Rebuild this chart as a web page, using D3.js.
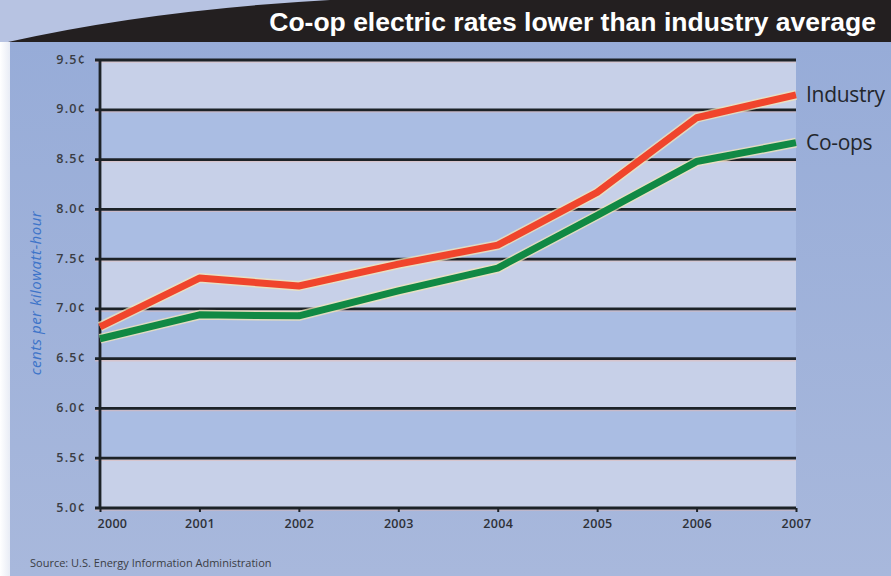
<!DOCTYPE html>
<html>
<head>
<meta charset="utf-8">
<script src="https://cdn.jsdelivr.net/npm/d3@7"></script>
<style>
  body { margin: 0; background: #ffffff; }
  svg { display: block; }
</style>
</head>
<body>
<svg></svg>
<script>
// DATA
var years = [2000, 2001, 2002, 2003, 2004, 2005, 2006, 2007];
var industry = [6.82, 7.31, 7.23, 7.45, 7.64, 8.17, 8.92, 9.15];
var coops = [6.70, 6.94, 6.93, 7.18, 7.41, 7.94, 8.48, 8.67];
var yTicks = [5.0, 5.5, 6.0, 6.5, 7.0, 7.5, 8.0, 8.5, 9.0, 9.5];
var seriesNames = ['Industry', 'Co-ops'];

// SVG SETUP
var W = 891, H = 576;
var svg = d3.select('svg')
    .attr('width', W)
    .attr('height', H);

var defs = svg.append('defs');
var bg = defs.append('linearGradient')
    .attr('id', 'bgGrad')
    .attr('x1', 0).attr('y1', 0).attr('x2', 0).attr('y2', 1);
bg.append('stop').attr('offset', '0%').attr('stop-color', '#97acd8');
bg.append('stop').attr('offset', '100%').attr('stop-color', '#a8b8dc');

var leftStrip = defs.append('linearGradient')
    .attr('id', 'stripGrad')
    .attr('x1', 0).attr('y1', 0).attr('x2', 1).attr('y2', 0);
leftStrip.append('stop').attr('offset', '0%').attr('stop-color', '#ffffff');
leftStrip.append('stop').attr('offset', '100%').attr('stop-color', '#e8ecf5');

// BACKGROUND
svg.append('rect')
    .attr('width', W).attr('height', H)
    .attr('fill', '#b7c3e2');

svg.append('rect')
    .attr('x', 0).attr('y', 42)
    .attr('width', W).attr('height', H - 42)
    .attr('fill', 'url(#bgGrad)');

svg.append('rect')
    .attr('x', 0).attr('y', 42)
    .attr('width', 10).attr('height', H - 42)
    .attr('fill', 'url(#stripGrad)');

// BANNER
svg.append('path')
    .attr('d', 'M8,42 Q150,10 330,0 L891,0 L891,42 Z')
    .attr('fill', '#231f20');

svg.append('text')
    .attr('x', 876)
    .attr('y', 31)
    .attr('text-anchor', 'end')
    .attr('fill', '#ffffff')
    .style('font-family', '"Liberation Sans Narrow", "Arial Narrow", "Liberation Sans", sans-serif')
    .style('font-weight', 'bold')
    .style('font-size', '26.5px')
    .text('Co-op electric rates lower than industry average');

// SCALES
var x = d3.scalePoint()
    .domain(years)
    .range([100, 796]);

var y = d3.scaleLinear()
    .domain([5.0, 9.5])
    .range([508, 60]);

var chartG = svg.append('g');

// BANDS
var bands = d3.pairs(yTicks);
chartG.selectAll('.band')
    .data(bands)
    .enter()
    .append('rect')
    .attr('class', 'band')
    .attr('x', x(years[0]))
    .attr('width', x(years[years.length - 1]) - x(years[0]))
    .attr('y', function(d) { return y(d[1]); })
    .attr('height', function(d) { return y(d[0]) - y(d[1]); })
    .attr('fill', function(d, i) {
        return i % 2 === 0 ? '#c7d0e8' : '#aabde3';
    });

// GRIDLINES
chartG.selectAll('.gridShadow')
    .data(yTicks)
    .enter()
    .append('line')
    .attr('x1', 95)
    .attr('x2', x(years[years.length - 1]))
    .attr('y1', function(d) { return y(d) + 2; })
    .attr('y2', function(d) { return y(d) + 2; })
    .attr('stroke', '#e8b8b0')
    .attr('stroke-opacity', 0.5)
    .attr('stroke-width', 1.5);

chartG.selectAll('.grid')
    .data(yTicks)
    .enter()
    .append('line')
    .attr('x1', 95)
    .attr('x2', x(years[years.length - 1]))
    .attr('y1', function(d) { return y(d); })
    .attr('y2', function(d) { return y(d); })
    .attr('stroke', '#1c2227')
    .attr('stroke-width', 2.8);

// Y AXIS LINE
chartG.append('line')
    .attr('x1', 100).attr('x2', 100)
    .attr('y1', y(9.5)).attr('y2', y(5.0) + 1)
    .attr('stroke', '#1c2227')
    .attr('stroke-width', 2.8);

// X AXIS
var xAxis = d3.axisBottom(x)
    .tickSize(4)
    .tickPadding(7)
    .tickFormat(d3.format('d'));

var xAxisG = chartG.append('g')
    .attr('transform', 'translate(0,' + y(5.0) + ')')
    .call(xAxis);
xAxisG.select('.domain').remove();
xAxisG.selectAll('.tick line')
    .attr('stroke', '#1c2227')
    .attr('stroke-width', 2);
xAxisG.selectAll('.tick text')
    .attr('fill', '#2e3138')
    .style('font-family', '"Open Sans", "DejaVu Sans", sans-serif')
    .style('font-weight', '600')
    .style('font-size', '12.5px')
    .style('letter-spacing', '0.3px');
// first year label sits right of the axis corner
xAxisG.selectAll('.tick text')
    .filter(function(d) { return d === years[0]; })
    .attr('text-anchor', 'start')
    .attr('x', -3);

// Y AXIS LABELS
chartG.selectAll('.ylabel')
    .data(yTicks)
    .enter()
    .append('text')
    .attr('x', 86)
    .attr('y', function(d) { return y(d) + 3.5; })
    .attr('text-anchor', 'end')
    .attr('fill', '#3a3d44')
    .style('font-family', '"Open Sans", "DejaVu Sans", sans-serif')
    .style('font-weight', '600')
    .style('font-size', '12.5px')
    .style('letter-spacing', '1.2px')
    .text(function(d) { return d3.format('.1f')(d) + '\u00a2'; });

// Y AXIS TITLE
svg.append('text')
    .attr('transform', 'translate(41, 293) rotate(-90)')
    .attr('text-anchor', 'middle')
    .attr('fill', '#3d74c9')
    .style('font-family', '"Open Sans", "DejaVu Sans", sans-serif')
    .style('font-style', 'italic')
    .style('font-size', '15px')
    .style('letter-spacing', '0.5px')
    .text('cents per kilowatt-hour');

// LINES
var line = d3.line()
    .x(function(d, i) { return x(years[i]); })
    .y(function(d) { return y(d); });

var series = [
    { name: seriesNames[0], values: industry, color: '#f0452c' },
    { name: seriesNames[1], values: coops, color: '#118944' }
];

series.forEach(function(s) {
    chartG.append('path')
        .datum(s.values)
        .attr('d', line)
        .attr('fill', 'none')
        .attr('stroke', '#f1e6b8')
        .attr('stroke-opacity', 0.75)
        .attr('stroke-width', 10)
        .attr('stroke-linejoin', 'round');
});

series.forEach(function(s) {
    chartG.append('path')
        .datum(s.values)
        .attr('d', line)
        .attr('fill', 'none')
        .attr('stroke', s.color)
        .attr('stroke-width', 7)
        .attr('stroke-linejoin', 'round');
});

// LEGEND LABELS
chartG.selectAll('.seriesLabel')
    .data(series)
    .enter()
    .append('text')
    .attr('x', 806)
    .attr('y', function(d) { return y(d.values[d.values.length - 1]) + 7; })
    .attr('fill', '#23262c')
    .style('font-family', '"Open Sans", "DejaVu Sans", sans-serif')
    .style('font-size', '21px')
    .style('letter-spacing', '-0.3px')
    .text(function(d) { return d.name; });

// SOURCE
svg.append('text')
    .attr('x', 30)
    .attr('y', 567)
    .attr('fill', '#3a3d44')
    .style('font-family', '"Open Sans", "DejaVu Sans", sans-serif')
    .style('font-size', '11px')
    .text('Source: U.S. Energy Information Administration');
</script>
</body>
</html>
